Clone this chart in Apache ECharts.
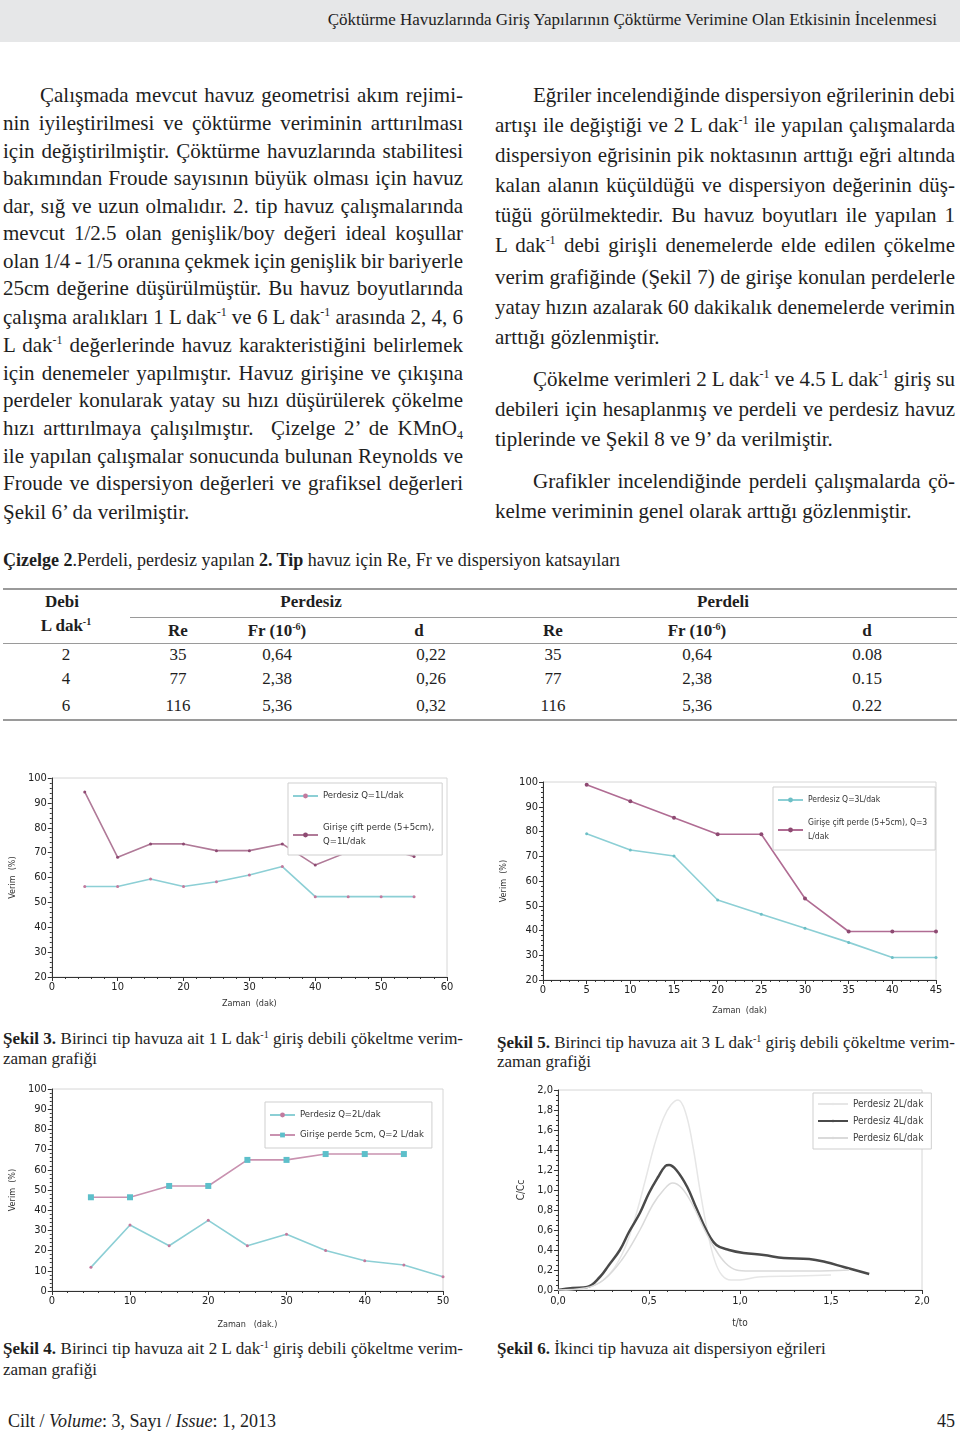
<!DOCTYPE html>
<html lang="tr">
<head>
<meta charset="utf-8">
<script src="https://cdn.jsdelivr.net/npm/echarts@6/dist/echarts.min.js"></script>
<style>
  html,body{margin:0;padding:0;background:#fff;}
  body{position:relative;width:960px;height:1435px;overflow:hidden;font-family:'Liberation Serif','Times New Roman',serif;color:#1e1e1e;}
  .hdr{position:absolute;left:0;top:0;width:960px;height:42px;background:#e6e7e8;}
  .hdrt{position:absolute;right:23px;top:10px;font-size:17px;line-height:20px;white-space:nowrap;}
  .ln{position:absolute;font-size:21px;line-height:28px;height:28px;white-space:nowrap;}
  .L{left:3px;width:460px}.Li{left:40px;width:423px}
  .R{left:495px;width:460px}.Ri{left:533px;width:422px}
  sup{font-size:12px;vertical-align:8px;line-height:0}
  sub{font-size:12px;vertical-align:-4px;line-height:0}
  .cap{position:absolute;font-size:17px;line-height:20px;height:20px;white-space:nowrap;}
  .cap sup{font-size:10px;vertical-align:6px}
  .capL{left:3px;width:460px}.capR{left:497px;width:458px}
  .tl{position:absolute;background:#9a9a9a;}
  .tc{position:absolute;width:140px;text-align:center;font-size:17px;line-height:20px;height:20px;white-space:nowrap;}
  .tc sup{font-size:10px;vertical-align:6px}
  .b{font-weight:bold}
  .chart{position:absolute;}
</style>
</head>
<body>
<div class="hdr"><div class="hdrt">Çöktürme Havuzlarında Giriş Yapılarının Çöktürme Verimine Olan Etkisinin İncelenmesi</div></div>

<!-- left column -->
<div class="ln Li j" style="top:81px">Çalışmada mevcut havuz geometrisi akım rejimi-</div>
<div class="ln L j" style="top:109px">nin iyileştirilmesi ve çöktürme veriminin arttırılması</div>
<div class="ln L j" style="top:137px">için değiştirilmiştir. Çöktürme havuzlarında stabilitesi</div>
<div class="ln L j" style="top:164px">bakımından Froude sayısının büyük olması için havuz</div>
<div class="ln L j" style="top:192px">dar, sığ ve uzun olmalıdır. 2. tip havuz çalışmalarında</div>
<div class="ln L j" style="top:219px">mevcut 1/2.5 olan genişlik/boy değeri ideal koşullar</div>
<div class="ln L j" style="top:247px">olan 1/4 - 1/5 oranına çekmek için genişlik bir bariyerle</div>
<div class="ln L j" style="top:274px">25cm değerine düşürülmüştür. Bu havuz boyutlarında</div>
<div class="ln L j" style="top:303px">çalışma aralıkları 1 L dak<sup>-1</sup> ve 6 L dak<sup>-1</sup> arasında 2, 4, 6</div>
<div class="ln L j" style="top:331px">L dak<sup>-1</sup> değerlerinde havuz karakteristiğini belirlemek</div>
<div class="ln L j" style="top:359px">için denemeler yapılmıştır. Havuz girişine ve çıkışına</div>
<div class="ln L j" style="top:386px">perdeler konularak yatay su hızı düşürülerek çökelme</div>
<div class="ln L j" style="top:414px">hızı arttırılmaya çalışılmıştır.&nbsp; Çizelge 2’ de KMnO<sub>4</sub></div>
<div class="ln L j" style="top:442px">ile yapılan çalışmalar sonucunda bulunan Reynolds ve</div>
<div class="ln L j" style="top:469px">Froude ve dispersiyon değerleri ve grafiksel değerleri</div>
<div class="ln L" style="top:498px">Şekil 6’ da verilmiştir.</div>

<!-- right column -->
<div class="ln Ri j" style="top:81px">Eğriler incelendiğinde dispersiyon eğrilerinin debi</div>
<div class="ln R j" style="top:111px">artışı ile değiştiği ve 2 L dak<sup>-1</sup> ile yapılan çalışmalarda</div>
<div class="ln R j" style="top:141px">dispersiyon eğrisinin pik noktasının arttığı eğri altında</div>
<div class="ln R j" style="top:171px">kalan alanın küçüldüğü ve dispersiyon değerinin düş-</div>
<div class="ln R j" style="top:201px">tüğü görülmektedir. Bu havuz boyutları ile yapılan 1</div>
<div class="ln R j" style="top:231px">L dak<sup>-1</sup> debi girişli denemelerde elde edilen çökelme</div>
<div class="ln R j" style="top:263px">verim grafiğinde (Şekil 7) de girişe konulan perdelerle</div>
<div class="ln R j" style="top:293px">yatay hızın azalarak 60 dakikalık denemelerde verimin</div>
<div class="ln R" style="top:323px">arttığı gözlenmiştir.</div>
<div class="ln Ri j" style="top:365px">Çökelme verimleri 2 L dak<sup>-1</sup> ve 4.5 L dak<sup>-1</sup> giriş su</div>
<div class="ln R j" style="top:395px">debileri için hesaplanmış ve perdeli ve perdesiz havuz</div>
<div class="ln R" style="top:425px">tiplerinde ve Şekil 8 ve 9’ da verilmiştir.</div>
<div class="ln Ri j" style="top:467px">Grafikler incelendiğinde perdeli çalışmalarda çö-</div>
<div class="ln R" style="top:497px">kelme veriminin genel olarak arttığı gözlenmiştir.</div>

<!-- table -->
<div class="cap" style="left:3px;top:550px;font-size:18px"><span class="b">Çizelge 2</span>.Perdeli, perdesiz yapılan <span class="b">2. Tip</span> havuz için Re, Fr ve dispersiyon katsayıları</div>
<div class="tl" style="left:3px;top:588px;width:954px;height:2px"></div>
<div class="tl" style="left:130px;top:617px;width:827px;height:1px"></div>
<div class="tl" style="left:3px;top:643px;width:954px;height:1px"></div>
<div class="tl" style="left:3px;top:719px;width:954px;height:2px"></div>
<div class="tc b" style="left:-8px;top:592px">Debi</div>
<div class="tc b" style="left:-4px;top:616px">L dak<sup>-1</sup></div>
<div class="tc b" style="left:241px;top:592px">Perdesiz</div>
<div class="tc b" style="left:653px;top:592px">Perdeli</div>
<div class="tc b" style="left:108px;top:621px">Re</div>
<div class="tc b" style="left:207px;top:621px">Fr (10<sup>-6</sup>)</div>
<div class="tc b" style="left:349px;top:621px">d</div>
<div class="tc b" style="left:483px;top:621px">Re</div>
<div class="tc b" style="left:627px;top:621px">Fr (10<sup>-6</sup>)</div>
<div class="tc b" style="left:797px;top:621px">d</div>
<div id="tbody"></div>

<!-- charts -->
<div id="c3" class="chart" style="left:0;top:765px;width:460px;height:250px"></div>
<div id="c5" class="chart" style="left:490px;top:770px;width:470px;height:250px"></div>
<div id="c4" class="chart" style="left:0;top:1080px;width:460px;height:255px"></div>
<div id="c6" class="chart" style="left:490px;top:1080px;width:470px;height:255px"></div>

<div class="cap capL j" style="top:1029px"><span class="b">Şekil 3.</span> Birinci tip havuza ait 1 L dak<sup>-1</sup> giriş debili çökeltme verim-</div>
<div class="cap capL" style="top:1049px">zaman grafiği</div>
<div class="cap capR j" style="top:1033px"><span class="b">Şekil 5.</span> Birinci tip havuza ait 3 L dak<sup>-1</sup> giriş debili çökeltme verim-</div>
<div class="cap capR" style="top:1052px">zaman grafiği</div>
<div class="cap capL j" style="top:1339px"><span class="b">Şekil 4.</span> Birinci tip havuza ait 2 L dak<sup>-1</sup> giriş debili çökeltme verim-</div>
<div class="cap capL" style="top:1360px">zaman grafiği</div>
<div class="cap capR" style="top:1339px"><span class="b">Şekil 6.</span> İkinci tip havuza ait dispersiyon eğrileri</div>

<div style="position:absolute;left:8px;top:1409px;font-size:18px;line-height:24px;white-space:nowrap">Cilt / <i>Volume</i>: 3, Sayı / <i>Issue</i>: 1, 2013</div>
<div style="position:absolute;right:5px;top:1409px;font-size:18px;line-height:24px">45</div>

<script>
// ---------- table data ----------
const tableDebi = ['2', '4', '6'];
const tableRe = ['35', '77', '116'];
const tableFr = ['0,64', '2,38', '5,36'];
const tableDPerdesiz = ['0,22', '0,26', '0,32'];
const tableDPerdeli = ['0.08', '0.15', '0.22'];

// ---------- Şekil 3 (1 L/dak) ----------
const time3 = [5, 10, 15, 20, 25, 30, 35, 40, 45, 50, 55];
const perdesiz1 = [56.4, 56.4, 59.4, 56.4, 58.3, 61.0, 64.4, 52.3, 52.3, 52.3, 52.3];
const ciftPerde1 = [94.4, 68.1, 73.5, 73.5, 70.8, 70.8, 73.5, 65.0, 70.3, 72.2, 68.4];

// ---------- Şekil 5 (3 L/dak) ----------
const time5 = [5, 10, 15, 20, 25, 30, 35, 40, 45];
const perdesiz3 = [79.1, 72.5, 70.1, 52.3, 46.6, 40.9, 35.2, 29.1, 29.1];
const ciftPerde3 = [98.9, 92.2, 85.6, 78.9, 78.9, 52.9, 39.6, 39.6, 39.6];

// ---------- Şekil 4 (2 L/dak) ----------
const time4a = [5, 10, 15, 20, 25, 30, 35, 40, 45, 50];
const perdesiz2 = [11.7, 32.7, 22.4, 35.0, 22.4, 28.1, 20.0, 15.0, 12.9, 7.1];
const time4b = [5, 10, 15, 20, 25, 30, 35, 40, 45];
const perde2 = [46.4, 46.4, 52.0, 52.0, 64.9, 64.9, 67.8, 67.8, 67.8];

// ---------- Şekil 6 (dispersiyon) ----------
const t2L = [0, 0.15, 0.25, 0.35, 0.42, 0.48, 0.53, 0.58, 0.62, 0.66, 0.70, 0.74, 0.78, 0.82, 0.86, 0.90, 0.95, 1.0, 1.1, 1.3, 1.5];
const c2L = [0, 0.02, 0.10, 0.35, 0.70, 1.10, 1.45, 1.72, 1.85, 1.90, 1.78, 1.45, 1.00, 0.60, 0.30, 0.15, 0.10, 0.10, 0.13, 0.14, 0.15];
const t4L = [0, 0.08, 0.16, 0.23, 0.28, 0.34, 0.39, 0.45, 0.50, 0.55, 0.59, 0.61, 0.65, 0.71, 0.76, 0.82, 0.87, 0.94, 1.02, 1.13, 1.24, 1.38, 1.47, 1.57, 1.71];
const c4L = [0, 0.02, 0.03, 0.13, 0.25, 0.40, 0.58, 0.77, 0.97, 1.13, 1.24, 1.25, 1.20, 1.03, 0.82, 0.58, 0.45, 0.40, 0.37, 0.35, 0.32, 0.31, 0.28, 0.23, 0.16];
const t6L = [0, 0.15, 0.25, 0.35, 0.45, 0.52, 0.58, 0.63, 0.68, 0.74, 0.80, 0.86, 0.92, 0.98, 1.05, 1.2, 1.4, 1.6];
const c6L = [0, 0.02, 0.10, 0.30, 0.60, 0.85, 1.00, 1.07, 1.02, 0.85, 0.62, 0.42, 0.27, 0.20, 0.19, 0.19, 0.19, 0.20];

// ---------- justify single lines ----------
document.querySelectorAll('.j').forEach(el => {
  const W = el.clientWidth;
  const span = document.createElement('span');
  span.innerHTML = el.innerHTML;
  el.innerHTML = '';
  el.appendChild(span);
  const nat = span.getBoundingClientRect().width;
  const txt = span.textContent;
  const spaces = (txt.match(/[ \u00a0]/g) || []).length;
  if (spaces > 0) span.style.wordSpacing = ((W - nat) / spaces) + 'px';
});

// ---------- build table ----------
(function(){
  const rowsY = [645, 669, 696];
  const cols = [[tableDebi, -4], [tableRe, 108], [tableFr, 207], [tableDPerdesiz, 361], [tableRe, 483], [tableFr, 627], [tableDPerdeli, 797]];
  const tb = document.getElementById('tbody');
  rowsY.forEach((y, i) => {
    cols.forEach(([arr, x]) => {
      const d = document.createElement('div');
      d.className = 'tc';
      d.style.left = x + 'px';
      d.style.top = y + 'px';
      d.textContent = arr[i];
      tb.appendChild(d);
    });
  });
})();

const FONT = "'DejaVu Sans Condensed','Liberation Sans Narrow','DejaVu Sans',sans-serif";
const zip = (xs, ys) => xs.map((x, i) => [x, ys[i]]);

function axis(min, max, interval, name, gap, extra) {
  return Object.assign({
    type: 'value', min, max, interval,
    name, nameLocation: 'middle', nameGap: gap,
    nameTextStyle: { fontSize: 9, color: '#333', fontFamily: FONT },
    axisLine: { show: true, onZero: false, lineStyle: { color: '#333', width: 1 } },
    axisTick: { show: true, length: 4, lineStyle: { color: '#333' } },
    minorTick: { show: true, splitNumber: 5, length: 2, lineStyle: { color: '#333' } },
    splitLine: { show: false },
    axisLabel: { fontSize: 11, color: '#222', margin: 5, fontFamily: FONT }
  }, extra || {});
}

function legend(left, top, gap, formatter, fs) {
  return {
    orient: 'vertical', left, top, itemWidth: 25, itemHeight: 6, itemGap: gap,
    borderColor: '#cfcfcf', borderWidth: 1, padding: [6, 8, 6, 4], backgroundColor: '#fff',
    textStyle: { fontSize: fs || 9.5, color: '#333', fontFamily: FONT, lineHeight: 14 },
    formatter: formatter || (n => n)
  };
}

function lineSeries(name, data, lineColor, markColor, symbol, size) {
  return {
    type: 'line', name, data, symbol: symbol || 'circle', symbolSize: size || 3,
    lineStyle: { color: lineColor, width: 1.6 },
    itemStyle: { color: markColor, borderWidth: 0 },
    emphasis: { disabled: true }
  };
}

const CYAN = '#8ccfd5', MAUVE = '#b07a98';

// Şekil 3
echarts.init(document.getElementById('c3')).setOption({
  animation: false,
  grid: { left: 45, top: 13, right: 13, bottom: 38, show: true, borderColor: '#d6d6d6', borderWidth: 1 },
  xAxis: axis(0, 60, 10, 'Zaman  (dak)', 22),
  yAxis: axis(20, 100, 10, 'Verim  (%)', 22),
  legend: legend(288, 18, 18, n => n.replace('(5+5cm), ', '(5+5cm),\n')),
  series: [
    lineSeries('Perdesiz Q=1L/dak', zip(time3, perdesiz1), CYAN, '#c27a9e', 'circle', 3),
    lineSeries('Girişe çift perde (5+5cm), Q=1L/dak', zip(time3, ciftPerde1), MAUVE, '#8e4a72', 'circle', 3)
  ]
});

// Şekil 5
echarts.init(document.getElementById('c5')).setOption({
  animation: false,
  grid: { left: 53, top: 12, right: 24, bottom: 39, show: true, borderColor: '#d6d6d6', borderWidth: 1 },
  xAxis: axis(0, 45, 5, 'Zaman  (dak)', 26),
  yAxis: axis(20, 100, 10, 'Verim  (%)', 20),
  legend: legend(283, 17, 9, n => n.replace('Q=3 L/dak', 'Q=3\nL/dak'), 8.5),
  series: [
    lineSeries('Perdesiz Q=3L/dak', zip(time5, perdesiz3), CYAN, '#6dbfc6', 'circle', 3),
    lineSeries('Girişe çift perde (5+5cm), Q=3 L/dak', zip(time5, ciftPerde3), '#b06c93', '#8e4a72', 'circle', 4)
  ]
});

// Şekil 4
echarts.init(document.getElementById('c4')).setOption({
  animation: false,
  grid: { left: 50, top: 9, right: 17, bottom: 44, show: true, borderColor: '#d6d6d6', borderWidth: 1 },
  xAxis: axis(0, 50, 10, 'Zaman   (dak.)', 29),
  yAxis: axis(0, 100, 10, 'Verim  (%)', 20),
  legend: legend(265, 22, 6),
  series: [
    lineSeries('Perdesiz Q=2L/dak', zip(time4a, perdesiz2), CYAN, '#c27a9e', 'circle', 3),
    lineSeries('Girişe perde 5cm, Q=2 L/dak', zip(time4b, perde2), '#c992b0', '#5dbfca', 'rect', 6)
  ]
});

// Şekil 6
const fmt1 = v => v.toFixed(1).replace('.', ',');
const FONT6 = "'Liberation Sans Narrow','DejaVu Sans Condensed','Open Sans',sans-serif";
echarts.init(document.getElementById('c6')).setOption({
  animation: false,
  grid: { left: 68, top: 10, right: 38, bottom: 45, show: true, borderColor: '#d6d6d6', borderWidth: 1 },
  xAxis: axis(0, 2, 0.5, 't/to', 28, { axisLabel: { fontSize: 11, color: '#222', margin: 6, fontFamily: FONT6, formatter: fmt1 }, nameTextStyle: { fontSize: 10, color: '#333', fontFamily: FONT6 } }),
  yAxis: axis(0, 2, 0.2, 'C/Cc', 25, { axisLabel: { fontSize: 11, color: '#222', margin: 5, fontFamily: FONT6, formatter: fmt1 }, nameTextStyle: { fontSize: 10, color: '#333', fontFamily: FONT6 }, minorTick: { show: true, splitNumber: 4, length: 2, lineStyle: { color: '#333' } } }),
  legend: Object.assign(legend(323, 13, 7), { itemWidth: 30, itemHeight: 3, textStyle: { fontSize: 10, color: '#444', fontFamily: FONT6 } }),
  series: [
    { type: 'line', name: 'Perdesiz 2L/dak', data: zip(t2L, c2L), smooth: 0.4, symbol: 'none', lineStyle: { color: '#e6e6e6', width: 1.5 }, itemStyle: { color: '#e6e6e6' } },
    { type: 'line', name: 'Perdesiz 4L/dak', data: zip(t4L, c4L), smooth: 0.4, symbol: 'none', lineStyle: { color: '#4a4a4a', width: 2.5 }, itemStyle: { color: '#4a4a4a' } },
    { type: 'line', name: 'Perdesiz 6L/dak', data: zip(t6L, c6L), smooth: 0.4, symbol: 'none', lineStyle: { color: '#dadada', width: 1.5 }, itemStyle: { color: '#dadada' } }
  ]
});
</script>
</body>
</html>
